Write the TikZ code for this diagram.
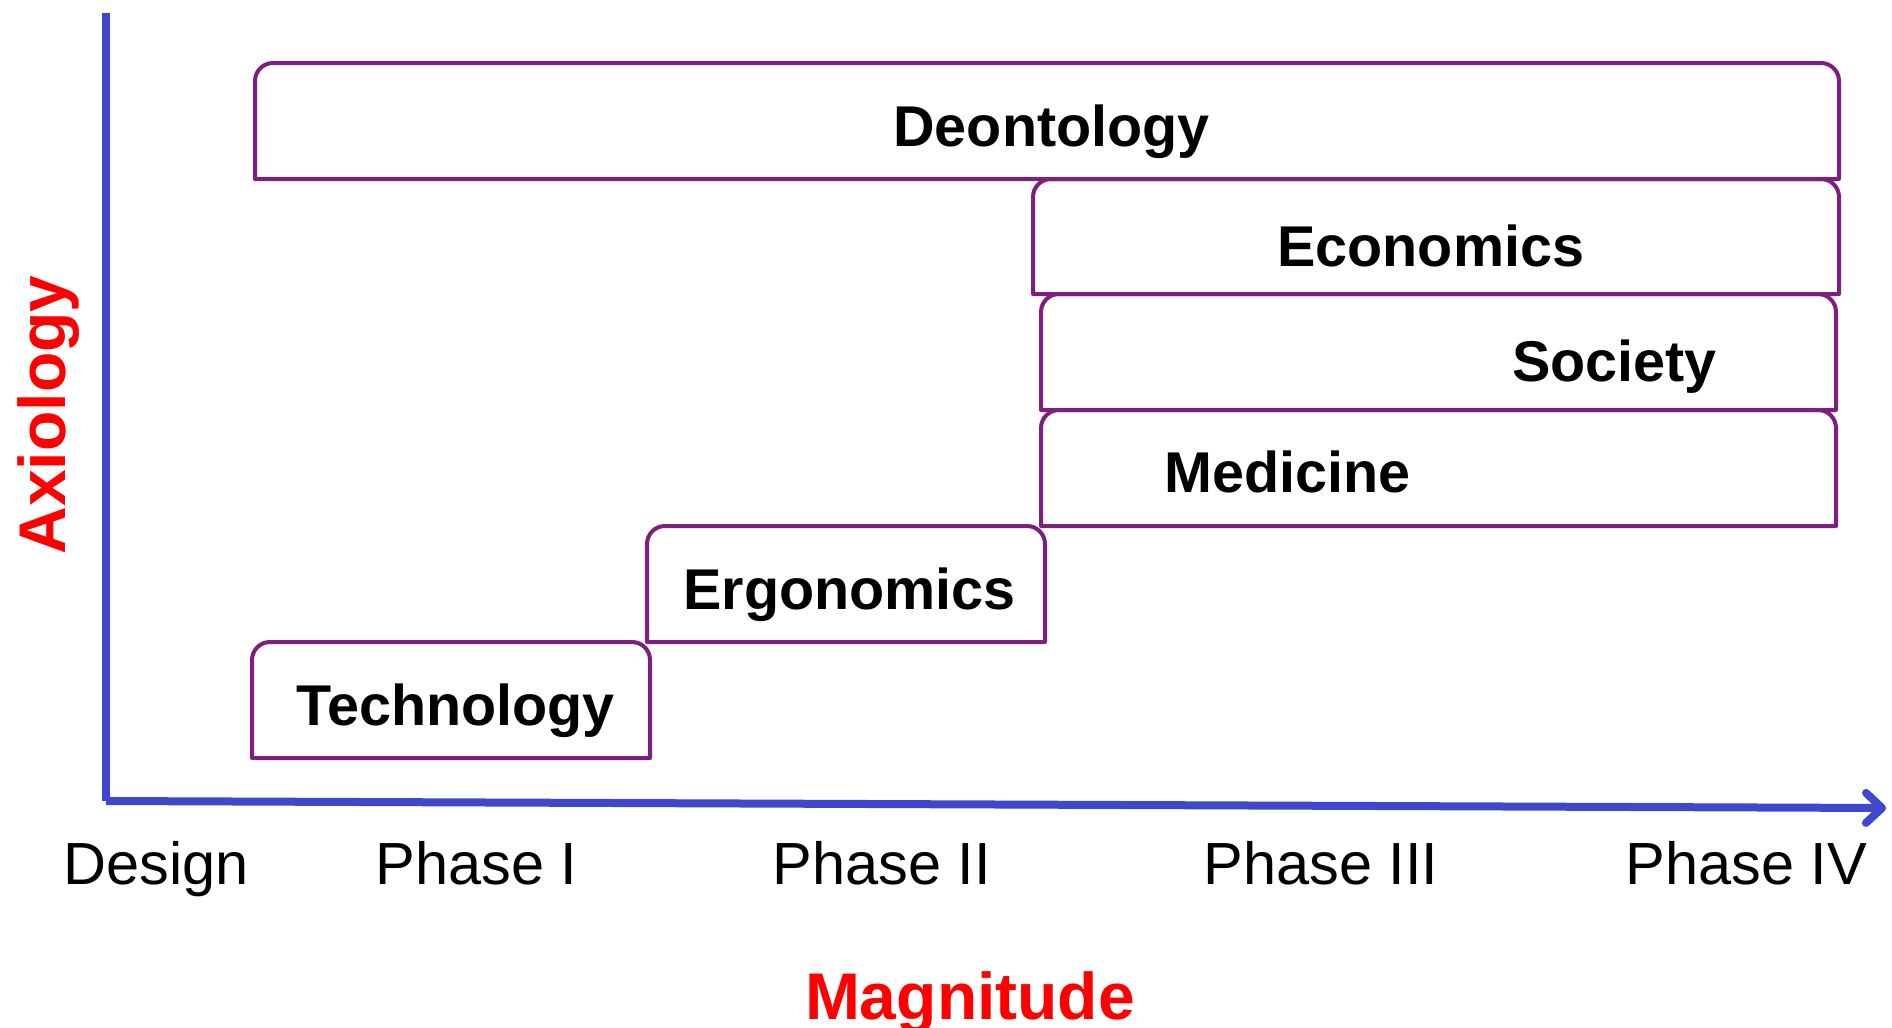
\documentclass[tikz,border=0pt]{standalone}
\usepackage{fontspec}
\setmainfont{Liberation Sans}
\usetikzlibrary{arrows.meta}
\definecolor{boxpurple}{RGB}{126,30,126}
\definecolor{axisblue}{RGB}{63,72,204}
\definecolor{axred}{RGB}{255,0,0}
\tikzset{
  boxline/.style={draw=boxpurple, line width=2pt, line join=round},
  boxtext/.style={anchor=base west, inner sep=0pt, font=\fontsize{28.75}{30}\selectfont\bfseries},
  phasetext/.style={anchor=base west, inner sep=0pt, font=\fontsize{29.75}{31}\selectfont},
  axislabel/.style={anchor=base, inner sep=0pt, text=axred, font=\fontsize{33}{35}\selectfont\bfseries},
  axisline/.style={draw=axisblue, line width=4pt},
}
% name, x-left, y-top, x-right, y-bottom (pixels, y downward)
\newcommand\phbox[5]{%
  \coordinate (#1-sw) at (#2,-#5);
  \coordinate (#1-ne) at (#4,-#3);
  \draw[boxline] (#1-sw) -- (#2,-#3-18) arc[start angle=180,end angle=90,radius=9pt]
    -- (#4-18,-#3) arc[start angle=90,end angle=0,radius=9pt] -- (#4,-#5) -- cycle;
}
\begin{document}
\begin{tikzpicture}[x=0.5pt,y=0.5pt]
\useasboundingbox (0,0) rectangle (1892,-1028);

% boxes
\phbox{deon}{255}{63}{1839}{179}
\phbox{econ}{1033}{179}{1839}{294}
\phbox{soc}{1041}{294}{1836}{410}
\phbox{med}{1041}{410}{1836}{526}
\phbox{ergo}{647}{526}{1045}{642}
\phbox{tech}{252}{642}{650}{758}

\node[boxtext] (tdeon) at (893,-146) {Deontology};
\node[boxtext] (tecon) at (1277,-266) {Economics};
\node[boxtext] (tsoc)  at (1512,-381) {Society};
\node[boxtext] (tmed)  at (1164,-492) {Medicine};
\node[boxtext] (tergo) at (683,-609) {Ergonomics};
\node[boxtext] (ttech) at (296,-725) {Technology};

% axes
\coordinate (ytop) at (106,-13);
\coordinate (orig) at (106,-801);
\coordinate (xend) at (1886,-808);
\draw[axisline] (ytop) -- (orig);
\draw[axisline, -{Straight Barb[length=8pt,width=15pt,round]}] (orig) -- (xend);

% phase labels
\node[phasetext] (design) at (63,-884) {Design};
\node[phasetext] (ph1) at (375,-884) {Phase I};
\node[phasetext] (ph2) at (772,-884) {Phase II};
\node[phasetext] (ph3) at (1203,-884) {Phase III};
\node[phasetext] (ph4) at (1625,-884) {Phase IV};

% axis titles
\node[axislabel] (mag) at (970,-1019) {Magnitude};
\node[axislabel, rotate=90] (axi) at (65,-415) {Axiology};
\end{tikzpicture}
\end{document}
